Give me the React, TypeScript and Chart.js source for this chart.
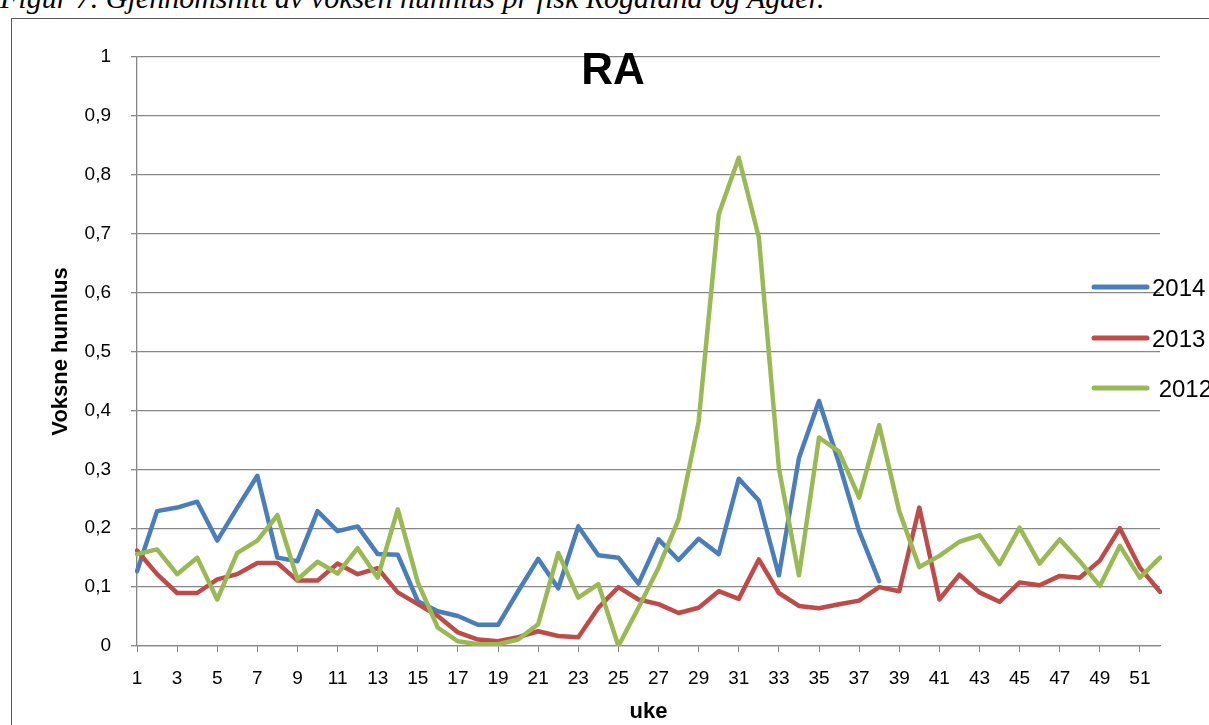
import React, { useEffect, useRef } from 'react';
import { Chart, registerables } from 'chart.js';

Chart.register(...registerables);

const weeks: string[] = [
  '1', '2', '3', '4', '5', '6', '7', '8', '9', '10', '11', '12', '13',
  '14', '15', '16', '17', '18', '19', '20', '21', '22', '23', '24', '25', '26',
  '27', '28', '29', '30', '31', '32', '33', '34', '35', '36', '37', '38', '39',
  '40', '41', '42', '43', '44', '45', '46', '47', '48', '49', '50', '51', '52',
];

const series2014: (number | null)[] = [
  0.127, 0.229, 0.235, 0.245, 0.179, 0.235, 0.289, 0.15, 0.144, 0.229, 0.195, 0.203, 0.156,
  0.155, 0.076, 0.059, 0.051, 0.036, 0.036, 0.093, 0.148, 0.098, 0.203, 0.154, 0.15, 0.106,
  0.181, 0.146, 0.182, 0.156, 0.284, 0.247, 0.12, 0.319, 0.416, 0.31, 0.195, 0.11, null,
  null, null, null, null, null, null, null, null, null, null, null, null, null,
];

const series2013: number[] = [
  0.162, 0.122, 0.09, 0.09, 0.113, 0.122, 0.141, 0.141, 0.111, 0.111, 0.14, 0.122, 0.132,
  0.091, 0.071, 0.051, 0.023, 0.011, 0.008, 0.015, 0.025, 0.017, 0.015, 0.065, 0.1, 0.079,
  0.071, 0.056, 0.065, 0.093, 0.08, 0.147, 0.09, 0.068, 0.064, 0.071, 0.077, 0.1, 0.093,
  0.235, 0.079, 0.121, 0.091, 0.075, 0.108, 0.103, 0.119, 0.116, 0.145, 0.2, 0.133, 0.092,
];

const series2012: number[] = [
  0.156, 0.164, 0.122, 0.15, 0.079, 0.158, 0.179, 0.222, 0.113, 0.143, 0.123, 0.166, 0.116,
  0.232, 0.108, 0.031, 0.008, 0.003, 0.003, 0.011, 0.037, 0.158, 0.082, 0.105, 0.0, 0.065,
  0.133, 0.215, 0.381, 0.733, 0.829, 0.694, 0.302, 0.12, 0.354, 0.33, 0.252, 0.375, 0.229,
  0.134, 0.153, 0.177, 0.188, 0.139, 0.201, 0.14, 0.181, 0.144, 0.102, 0.17, 0.116, 0.15,
];

const yTickLabels: string[] = ['0', '0,1', '0,2', '0,3', '0,4', '0,5', '0,6', '0,7', '0,8', '0,9', '1'];

const seriesNames: string[] = ['2014', '2013', ' 2012'];
const seriesColors: string[] = ['#4A7EBB', '#BE4B48', '#98B954'];

const chartTitle = 'RA';
const yTitle = 'Voksne hunnlus';
const xTitle = 'uke';
const caption = 'Figur 7. Gjennomsnitt av voksen hunnlus pr fisk Rogaland og Agder.';

const FONT = '"Liberation Sans", Arial, sans-serif';

const overlayPlugin = {
  id: 'overlay',
  afterDraw(chart: any) {
    const ctx = chart.ctx as CanvasRenderingContext2D;
    ctx.save();
    // title
    ctx.font = `bold 44px ${FONT}`;
    ctx.fillStyle = '#000';
    ctx.textAlign = 'center';
    ctx.textBaseline = 'alphabetic';
    ctx.fillText(chartTitle, 613, 84);
    // legend
    const ys = [287, 338, 388];
    seriesNames.forEach((name, i) => {
      ctx.strokeStyle = seriesColors[i];
      ctx.lineWidth = 5;
      ctx.lineCap = 'round';
      ctx.beginPath();
      ctx.moveTo(1094, ys[i]);
      ctx.lineTo(1147, ys[i]);
      ctx.stroke();
      ctx.font = `24px ${FONT}`;
      ctx.fillStyle = '#000';
      ctx.textAlign = 'left';
      ctx.textBaseline = 'alphabetic';
      ctx.fillText(name, 1152, ys[i] + 8.5);
    });
    ctx.restore();
  },
};

export default function App() {
  const canvasRef = useRef<HTMLCanvasElement | null>(null);

  useEffect(() => {
    if (!canvasRef.current) return;
    const chart = new Chart(canvasRef.current, {
      type: 'line',
      data: {
        labels: weeks,
        datasets: [
          { label: seriesNames[0], data: series2014, borderColor: seriesColors[0], backgroundColor: seriesColors[0], order: 2 },
          { label: seriesNames[1], data: series2013, borderColor: seriesColors[1], backgroundColor: seriesColors[1], order: 1 },
          { label: seriesNames[2], data: series2012, borderColor: seriesColors[2], backgroundColor: seriesColors[2], order: 0 },
        ].map((d) => ({
          ...d,
          borderWidth: 4.5,
          pointRadius: 0,
          pointHoverRadius: 0,
          tension: 0,
          fill: false,
          spanGaps: false,
          borderJoinStyle: 'round' as const,
          borderCapStyle: 'round' as const,
        })),
      },
      options: {
        animation: false,
        responsive: false,
        maintainAspectRatio: false,
        events: [],
        layout: { padding: { left: 0, top: 57, right: 49, bottom: 0 } },
        plugins: {
          legend: { display: false },
          title: { display: false },
          tooltip: { enabled: false },
        },
        scales: {
          x: {
            type: 'category',
            offset: false,
            grid: {
              drawOnChartArea: false,
              drawTicks: true,
              tickLength: 6,
              color: '#868686',
              tickColor: (ctx: any) => (ctx.index % 2 === 0 ? '#868686' : 'rgba(0,0,0,0)'),
            },
            border: { display: true, color: '#868686', width: 1.3 },
            ticks: {
              autoSkip: false,
              maxRotation: 0,
              minRotation: 0,
              padding: 15,
              color: '#000',
              font: { family: FONT, size: 19 },
              callback: (_v: any, index: number) => (index % 2 === 0 ? weeks[index] : ''),
            },
            title: {
              display: true,
              text: xTitle,
              color: '#000',
              font: { family: FONT, size: 22, weight: 'bold' },
              padding: { top: 0, bottom: 0 },
            },
            afterFit: (scale: any) => {
              scale.height = 79;
            },
          },
          y: {
            min: 0,
            max: 1,
            ticks: {
              stepSize: 0.1,
              padding: 20,
              color: '#000',
              font: { family: FONT, size: 19 },
              callback: (_v: any, index: number) => yTickLabels[index],
            },
            grid: {
              color: '#868686',
              lineWidth: 1.3,
              drawTicks: true,
              tickLength: 6,
            },
            border: { display: true, color: '#868686', width: 1.3 },
            title: {
              display: true,
              text: yTitle,
              color: '#000',
              font: { family: FONT, size: 22, weight: 'bold' },
              padding: { top: 48, bottom: 0 },
            },
            afterFit: (scale: any) => {
              scale.width = 137;
            },
          },
        },
      },
      plugins: [overlayPlugin],
    });
    return () => chart.destroy();
  }, []);

  return (
    <div
      style={{
        position: 'absolute',
        left: 0,
        top: 0,
        width: 1209,
        height: 725,
        overflow: 'hidden',
        background: '#fff',
      }}
    >
      <div
        style={{
          position: 'absolute',
          left: 0,
          top: -17,
          whiteSpace: 'nowrap',
          fontFamily: '"Liberation Serif", "DejaVu Serif", serif',
          fontStyle: 'italic',
          fontSize: 30,
          lineHeight: '30px',
          color: '#000',
        }}
      >
        {caption}
      </div>
      <div
        style={{
          position: 'absolute',
          left: 11,
          top: 18,
          width: 1300,
          height: 800,
          border: '1px solid #595959',
          boxSizing: 'border-box',
        }}
      />
      <canvas
        ref={canvasRef}
        width={1209}
        height={725}
        style={{ position: 'absolute', left: 0, top: 0, width: 1209, height: 725 }}
      />
    </div>
  );
}
